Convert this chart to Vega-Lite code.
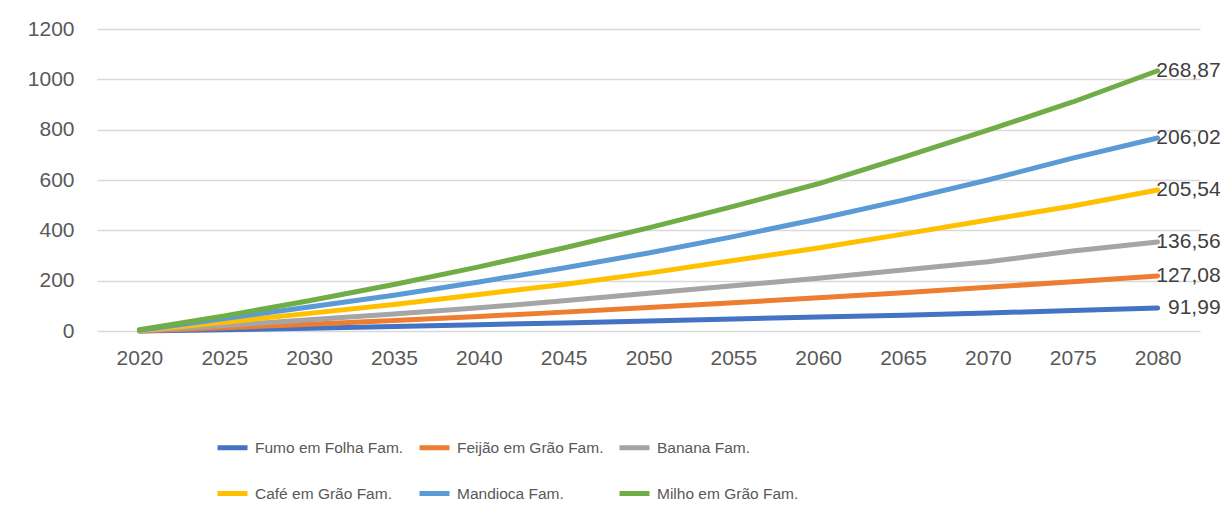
{
  "$schema": "https://vega.github.io/schema/vega-lite/v6.json",
  "width": 1103,
  "height": 302,
  "autosize": {"type": "none"},
  "padding": {"left": 97, "top": 29, "right": 22, "bottom": 188},
  "background": "white",
  "config": {
    "view": {"stroke": null},
    "font": "Liberation Sans"
  },
  "datasets": {
    "series": [
      {"ano": 2020, "produto": "Fumo em Folha Fam.", "valor": 0},
      {"ano": 2025, "produto": "Fumo em Folha Fam.", "valor": 5},
      {"ano": 2030, "produto": "Fumo em Folha Fam.", "valor": 11},
      {"ano": 2035, "produto": "Fumo em Folha Fam.", "valor": 18},
      {"ano": 2040, "produto": "Fumo em Folha Fam.", "valor": 25},
      {"ano": 2045, "produto": "Fumo em Folha Fam.", "valor": 32},
      {"ano": 2050, "produto": "Fumo em Folha Fam.", "valor": 40},
      {"ano": 2055, "produto": "Fumo em Folha Fam.", "valor": 48},
      {"ano": 2060, "produto": "Fumo em Folha Fam.", "valor": 56},
      {"ano": 2065, "produto": "Fumo em Folha Fam.", "valor": 63},
      {"ano": 2070, "produto": "Fumo em Folha Fam.", "valor": 72},
      {"ano": 2075, "produto": "Fumo em Folha Fam.", "valor": 81},
      {"ano": 2080, "produto": "Fumo em Folha Fam.", "valor": 91},
      {"ano": 2020, "produto": "Feijão em Grão Fam.", "valor": 0},
      {"ano": 2025, "produto": "Feijão em Grão Fam.", "valor": 13},
      {"ano": 2030, "produto": "Feijão em Grão Fam.", "valor": 27},
      {"ano": 2035, "produto": "Feijão em Grão Fam.", "valor": 42},
      {"ano": 2040, "produto": "Feijão em Grão Fam.", "valor": 58},
      {"ano": 2045, "produto": "Feijão em Grão Fam.", "valor": 75},
      {"ano": 2050, "produto": "Feijão em Grão Fam.", "valor": 93},
      {"ano": 2055, "produto": "Feijão em Grão Fam.", "valor": 112},
      {"ano": 2060, "produto": "Feijão em Grão Fam.", "valor": 132},
      {"ano": 2065, "produto": "Feijão em Grão Fam.", "valor": 152},
      {"ano": 2070, "produto": "Feijão em Grão Fam.", "valor": 174},
      {"ano": 2075, "produto": "Feijão em Grão Fam.", "valor": 196},
      {"ano": 2080, "produto": "Feijão em Grão Fam.", "valor": 219},
      {"ano": 2020, "produto": "Banana Fam.", "valor": 1},
      {"ano": 2025, "produto": "Banana Fam.", "valor": 22},
      {"ano": 2030, "produto": "Banana Fam.", "valor": 45},
      {"ano": 2035, "produto": "Banana Fam.", "valor": 68},
      {"ano": 2040, "produto": "Banana Fam.", "valor": 92},
      {"ano": 2045, "produto": "Banana Fam.", "valor": 120},
      {"ano": 2050, "produto": "Banana Fam.", "valor": 150},
      {"ano": 2055, "produto": "Banana Fam.", "valor": 180},
      {"ano": 2060, "produto": "Banana Fam.", "valor": 210},
      {"ano": 2065, "produto": "Banana Fam.", "valor": 242},
      {"ano": 2070, "produto": "Banana Fam.", "valor": 275},
      {"ano": 2075, "produto": "Banana Fam.", "valor": 318},
      {"ano": 2080, "produto": "Banana Fam.", "valor": 354},
      {"ano": 2020, "produto": "Café em Grão Fam.", "valor": 2},
      {"ano": 2025, "produto": "Café em Grão Fam.", "valor": 35},
      {"ano": 2030, "produto": "Café em Grão Fam.", "valor": 70},
      {"ano": 2035, "produto": "Café em Grão Fam.", "valor": 105},
      {"ano": 2040, "produto": "Café em Grão Fam.", "valor": 145},
      {"ano": 2045, "produto": "Café em Grão Fam.", "valor": 185},
      {"ano": 2050, "produto": "Café em Grão Fam.", "valor": 230},
      {"ano": 2055, "produto": "Café em Grão Fam.", "valor": 280},
      {"ano": 2060, "produto": "Café em Grão Fam.", "valor": 330},
      {"ano": 2065, "produto": "Café em Grão Fam.", "valor": 385},
      {"ano": 2070, "produto": "Café em Grão Fam.", "valor": 441},
      {"ano": 2075, "produto": "Café em Grão Fam.", "valor": 497},
      {"ano": 2080, "produto": "Café em Grão Fam.", "valor": 560},
      {"ano": 2020, "produto": "Mandioca Fam.", "valor": 3},
      {"ano": 2025, "produto": "Mandioca Fam.", "valor": 50},
      {"ano": 2030, "produto": "Mandioca Fam.", "valor": 95},
      {"ano": 2035, "produto": "Mandioca Fam.", "valor": 142},
      {"ano": 2040, "produto": "Mandioca Fam.", "valor": 195},
      {"ano": 2045, "produto": "Mandioca Fam.", "valor": 250},
      {"ano": 2050, "produto": "Mandioca Fam.", "valor": 310},
      {"ano": 2055, "produto": "Mandioca Fam.", "valor": 375},
      {"ano": 2060, "produto": "Mandioca Fam.", "valor": 445},
      {"ano": 2065, "produto": "Mandioca Fam.", "valor": 520},
      {"ano": 2070, "produto": "Mandioca Fam.", "valor": 600},
      {"ano": 2075, "produto": "Mandioca Fam.", "valor": 687},
      {"ano": 2080, "produto": "Mandioca Fam.", "valor": 767},
      {"ano": 2020, "produto": "Milho em Grão Fam.", "valor": 5},
      {"ano": 2025, "produto": "Milho em Grão Fam.", "valor": 60},
      {"ano": 2030, "produto": "Milho em Grão Fam.", "valor": 120},
      {"ano": 2035, "produto": "Milho em Grão Fam.", "valor": 185},
      {"ano": 2040, "produto": "Milho em Grão Fam.", "valor": 255},
      {"ano": 2045, "produto": "Milho em Grão Fam.", "valor": 330},
      {"ano": 2050, "produto": "Milho em Grão Fam.", "valor": 410},
      {"ano": 2055, "produto": "Milho em Grão Fam.", "valor": 495},
      {"ano": 2060, "produto": "Milho em Grão Fam.", "valor": 585},
      {"ano": 2065, "produto": "Milho em Grão Fam.", "valor": 690},
      {"ano": 2070, "produto": "Milho em Grão Fam.", "valor": 798},
      {"ano": 2075, "produto": "Milho em Grão Fam.", "valor": 910},
      {"ano": 2080, "produto": "Milho em Grão Fam.", "valor": 1034}
    ],
    "rotulos": [
      {"ano": 2080, "valor": 91, "texto": "91,99"},
      {"ano": 2080, "valor": 219, "texto": "127,08"},
      {"ano": 2080, "valor": 354, "texto": "136,56"},
      {"ano": 2080, "valor": 560, "texto": "205,54"},
      {"ano": 2080, "valor": 767, "texto": "206,02"},
      {"ano": 2080, "valor": 1034, "texto": "268,87"}
    ]
  },
  "layer": [
    {
      "data": {"name": "series"},
      "mark": {"type": "line", "strokeWidth": 5, "strokeCap": "round", "strokeJoin": "round"},
      "encoding": {
        "x": {
          "field": "ano", "type": "quantitative",
          "scale": {"domain": [2017.5, 2082.5], "nice": false, "zero": false},
          "axis": {
            "title": null,
            "values": [2020, 2025, 2030, 2035, 2040, 2045, 2050, 2055, 2060, 2065, 2070, 2075, 2080],
            "format": "d",
            "grid": false,
            "ticks": false,
            "domain": false,
            "labelFontSize": 21,
            "labelColor": "#595959",
            "labelPadding": 16,
            "labelFlush": false
          }
        },
        "y": {
          "field": "valor", "type": "quantitative",
          "scale": {"domain": [0, 1200], "nice": false},
          "axis": {
            "title": null,
            "values": [0, 200, 400, 600, 800, 1000, 1200],
            "format": "d",
            "grid": true,
            "gridColor": "#d9d9d9",
            "gridWidth": 1.5,
            "ticks": false,
            "domain": false,
            "labelFontSize": 21,
            "labelColor": "#595959",
            "labelPadding": 23
          }
        },
        "color": {
          "field": "produto", "type": "nominal",
          "scale": {
            "domain": ["Fumo em Folha Fam.", "Feijão em Grão Fam.", "Banana Fam.", "Café em Grão Fam.", "Mandioca Fam.", "Milho em Grão Fam."],
            "range": ["#4472C4", "#ED7D31", "#A5A5A5", "#FFC000", "#5B9BD5", "#70AD47"]
          },
          "legend": {
            "title": null,
            "orient": "none",
            "direction": "horizontal",
            "legendX": 118,
            "legendY": 401,
            "columns": 3,
            "symbolType": "stroke",
            "symbolSize": 900,
            "symbolStrokeWidth": 5,
            "labelFontSize": 15.5,
            "labelColor": "#595959",
            "labelOffset": 5,
            "columnPadding": 5,
            "rowPadding": 18,
            "labelLimit": 300
          }
        }
      }
    },
    {
      "data": {"name": "rotulos"},
      "mark": {"type": "text", "align": "right", "baseline": "middle", "dx": 63, "fontSize": 21, "color": "#404040"},
      "encoding": {
        "x": {"field": "ano", "type": "quantitative"},
        "y": {"field": "valor", "type": "quantitative"},
        "text": {"field": "texto"}
      }
    }
  ]
}
